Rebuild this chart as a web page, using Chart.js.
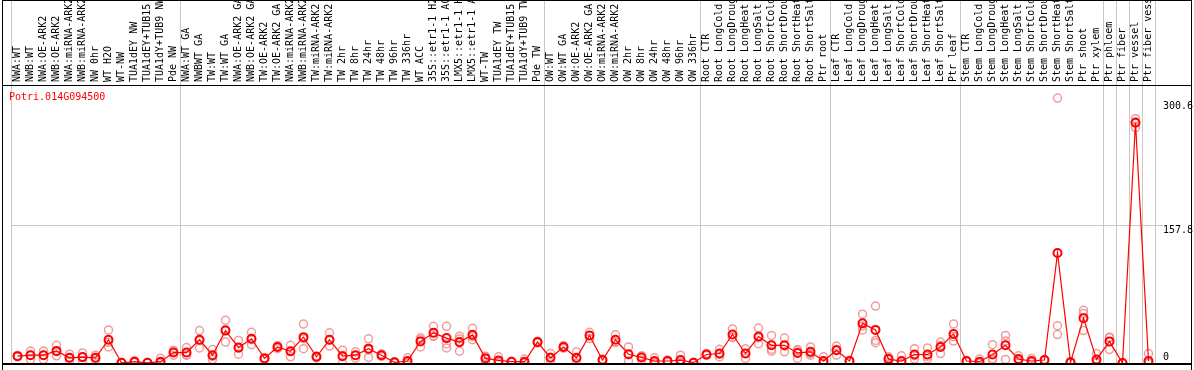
<!DOCTYPE html>
<html>
<head>
<meta charset="utf-8">
<script src="https://cdn.jsdelivr.net/npm/chart.js@4/dist/chart.umd.min.js"></script>
<style>
  html, body { margin: 0; padding: 0; background: #fff; }
  canvas { display: block; }
</style>
</head>
<body>
<canvas id="expr" width="1194" height="370"></canvas>
<script>
// sample labels, as printed (truncated to 14 chars in the source image)
const samples = [
  'NWA:WT', 'NWB:WT', 'NWA:OE-ARK2', 'NWB:OE-ARK2', 'NWA:miRNA-ARK2', 'NWB:miRNA-ARK2', 'NW 0hr',
  'WT H2O', 'WT-NW', 'TUA1dEY NW', 'TUA1dEY+TUB15', 'TUA1dY+TUB9 NW', 'Pde NW',
  'NWA:WT GA', 'NWBWT GA', 'TW:WT', 'TW:WT GA', 'NWA:OE-ARK2 GA', 'NWB:OE-ARK2 GA', 'TW:OE-ARK2',
  'TW:OE-ARK2 GA', 'NWA:miRNA-ARK2', 'NWB:miRNA-ARK2', 'TW:miRNA-ARK2', 'TW:miRNA-ARK2', 'TW 2hr',
  'TW 8hr', 'TW 24hr', 'TW 48hr', 'TW 96hr', 'TW 336hr', 'WT ACC', '35S::etr1-1 H2', '35S::etr1-1 AC',
  'LMX5::etr1-1 H', 'LMX5::etr1-1 A', 'WT-TW', 'TUA1dEY TW', 'TUA1dEY+TUB15', 'TUA1dY+TUB9 TW', 'Pde TW',
  'OW:WT', 'OW:WT GA', 'OW:OE-ARK2', 'OW:OE-ARK2 GA', 'OW:miRNA-ARK2', 'OW:miRNA-ARK2', 'OW 2hr',
  'OW 8hr', 'OW 24hr', 'OW 48hr', 'OW 96hr', 'OW 336hr',
  'Root CTR', 'Root LongCold', 'Root LongDroug', 'Root LongHeat', 'Root LongSalt', 'Root ShortCold',
  'Root ShortDrou', 'Root ShortHeat', 'Root ShortSalt', 'Ptr root',
  'Leaf CTR', 'Leaf LongCold', 'Leaf LongDroug', 'Leaf LongHeat', 'Leaf LongSalt', 'Leaf ShortCold',
  'Leaf ShortDrou', 'Leaf ShortHeat', 'Leaf ShortSalt', 'Ptr leaf',
  'Stem CTR', 'Stem LongCold', 'Stem LongDroug', 'Stem LongHeat', 'Stem LongSalt', 'Stem ShortCold',
  'Stem ShortDrou', 'Stem ShortHeat', 'Stem ShortSalt', 'Ptr shoot', 'Ptr xylem',
  'Ptr phloem', 'Ptr fiber', 'Ptr vessel', 'Ptr fiber vess'
];

// index of the first sample of each experiment block (plus the end)
const groupStarts = [0, 13, 41, 53, 63, 73, 84, 85, 86, 87, 88];

// mean expression per sample
const meanValues = [
  7.9, 9.0, 9.0, 13.9, 6.0, 6.8, 6.0, 26.7, 0.2, 1.5, 0.2, 1.5, 12.0,
  12.0, 26.7, 9.0, 37.2, 17.7, 27.8, 5.3, 18.4, 13.5, 29.7, 7.1, 26.7, 7.9, 9.0, 16.5, 9.0, 0.8,
  2.3, 24.8, 34.6, 28.6, 24.0, 32.3, 5.3, 3.0, 1.5, 1.5, 24.0,
  6.0, 18.4, 6.0, 31.6, 3.4, 26.7, 10.1, 6.4, 2.3, 2.3, 3.4, 0.4,
  9.8, 10.9, 32.7, 10.9, 30.4, 20.3, 20.3, 11.6, 12.8, 2.3,
  14.7, 2.3, 45.5, 38.0, 4.5, 2.3, 9.8, 9.8, 18.4, 33.4,
  2.3, 1.5, 9.8, 20.3, 4.5, 2.3, 3.4, 126.3, 0.8, 51.5, 4.1,
  24.8, 0.0, 275.8, 2.3
];

// individual replicates
const rep1 = [
  8.5, 13.9, 13.9, 20.3, 10.1, 11.6, 9.0, 38.0, 0.4, 2.5, 0.5, 5.5, 14.7,
  17.7, 37.2, 15.4, 49.2, 25.9, 35.3, 6.0, 20.0, 20.3, 44.7, 8.0, 34.6, 14.7, 12.8, 27.8, 10.5, 1.5,
  6.0, 28.9, 42.1, 42.1, 30.8, 39.8, 6.5, 7.1, 2.0, 4.5, 25.0,
  10.9, 20.0, 12.8, 35.3, 4.5, 32.3, 18.4, 7.5, 6.0, 3.5, 9.0, 1.0,
  11.0, 15.8, 39.1, 16.5, 40.2, 31.6, 28.6, 14.0, 18.4, 7.1,
  19.5, 3.0, 56.0, 65.4, 7.1, 8.3, 16.5, 17.3, 24.0, 44.7,
  3.0, 4.5, 21.0, 31.6, 8.3, 5.3, 4.0, 304.0, 1.5, 60.5, 10.9,
  29.7, 0.0, 280.4, 10.9
];
const rep2 = [
  7.2, 4.1, 4.1, 8.3, 2.3, 2.3, 3.4, 18.4, 0.0, 0.5, 0.0, 0.0, 9.0,
  9.0, 17.3, 4.0, 24.0, 10.1, 21.0, 4.5, 16.5, 7.1, 16.5, 6.0, 19.5, 0.0, 5.5, 6.4, 7.5, 0.0,
  0.0, 18.4, 30.8, 17.3, 13.5, 26.7, 1.5, 0.5, 1.0, 0.0, 23.0,
  0.5, 17.0, 0.0, 28.0, 2.5, 24.0, 2.3, 3.4, 0.0, 1.0, 0.0, 0.0,
  8.5, 7.0, 29.7, 5.3, 22.2, 13.5, 12.8, 5.3, 9.0, 0.0,
  9.0, 1.5, 38.0, 25.9, 1.0, 0.0, 4.5, 4.5, 10.9, 25.2,
  1.5, 0.0, 3.4, 4.1, 2.0, 0.5, 2.8, 42.8, 0.0, 37.2, 0.0,
  15.4, 0.0, 270.2, 0.0
];
const rep3 = [
  8.0, 9.0, 9.0, 13.0, 5.6, 6.5, 5.6, 23.7, 0.2, 1.5, 0.1, 0.0, 12.3,
  9.3, 25.6, 7.6, 38.4, 17.1, 27.1, 5.4, 18.7, 13.1, 27.9, 7.3, 26.0, 9.0, 8.7, 15.3, 9.0, 0.9,
  0.9, 27.1, 30.9, 22.2, 27.7, 30.4, 7.9, 1.4, 1.5, 0.0, 24.0,
  6.6, 18.2, 5.2, 31.5, 3.2, 23.8, 9.6, 8.3, 0.9, 2.4, 1.2, 0.2,
  9.9, 9.9, 29.3, 10.9, 28.8, 15.8, 19.5, 15.5, 11.0, 0.0,
  15.6, 2.4, 42.5, 23.3, 5.4, 0.0, 8.4, 7.6, 20.3, 30.3,
  2.4, 0.0, 5.0, 25.2, 3.2, 1.1, 3.4, 32.7, 0.9, 56.8, 1.4,
  29.3, 0.0, 276.8, 0.0
];

const yTicks = [0, 157.8, 300.6];
const geneId = 'Potri.014G094500';

const MONO = "'DejaVu Sans Mono', monospace";
const RED = '#ff0000';
const PINK = 'rgba(238, 140, 140, 0.85)';

const framePlugin = {
  id: 'frame',
  beforeDraw(chart) {
    const c = chart.ctx;
    c.save();
    c.fillStyle = '#fff';
    c.fillRect(0, 0, chart.width, chart.height);
    c.restore();
  },
  beforeDatasetsDraw(chart) {
    const c = chart.ctx;
    const x = chart.scales.x;
    const half = (x.getPixelForValue(1) - x.getPixelForValue(0)) / 2;
    c.save();
    c.strokeStyle = '#c8c8c8';
    c.lineWidth = 1;
    groupStarts.forEach(i => {
      const px = Math.round(x.getPixelForValue(i) - half) + 0.5;
      c.beginPath();
      c.moveTo(px, 0);
      c.lineTo(px, chart.chartArea.bottom);
      c.stroke();
    });
    c.restore();
  },
  afterDraw(chart) {
    const c = chart.ctx;
    const a = chart.chartArea;
    const y = chart.scales.y;
    c.save();
    // black box and the separator under the sample names
    c.strokeStyle = '#000';
    c.lineWidth = 1;
    c.beginPath();
    c.moveTo(2.5, 0.5); c.lineTo(1191.5, 0.5);
    c.moveTo(2.5, 0); c.lineTo(2.5, 370);
    c.moveTo(1191.5, 0); c.lineTo(1191.5, 370);
    c.moveTo(2, a.top + 0.5); c.lineTo(1192, a.top + 0.5);
    c.stroke();
    c.lineWidth = 2;
    c.beginPath();
    c.moveTo(2, a.bottom); c.lineTo(1192, a.bottom);
    c.stroke();

    // gene id
    c.font = '10px ' + MONO;
    c.fillStyle = RED;
    c.textBaseline = 'middle';
    c.textAlign = 'left';
    c.fillText(geneId, 9, 97);

    // value labels on the right, printed just below their level
    c.fillStyle = '#000';
    y.ticks.forEach(t => {
      const py = Math.min(y.getPixelForValue(t.value) + 5, a.bottom - 7);
      c.fillText(t.label, a.right + 8, py);
    });
    c.restore();
  }
};

const repSet = (data) => ({
  data: data,
  showLine: false,
  borderColor: PINK,
  backgroundColor: 'rgba(0,0,0,0)',
  pointBorderColor: PINK,
  pointBackgroundColor: 'rgba(0,0,0,0)',
  pointRadius: 4,
  pointBorderWidth: 1.5,
  pointHoverRadius: 4,
  order: 2,
  clip: { left: 8, right: 8, top: 8, bottom: 0 }
});

new Chart(document.getElementById('expr'), {
  type: 'line',
  data: {
    labels: samples,
    datasets: [
      {
        data: meanValues,
        borderColor: RED,
        borderWidth: 1.2,
        tension: 0,
        pointBorderColor: RED,
        pointBackgroundColor: 'rgba(0,0,0,0)',
        pointRadius: 4,
        pointBorderWidth: 2,
        pointHoverRadius: 4,
        order: 0,
        clip: { left: 8, right: 8, top: 8, bottom: 0 }
      },
      repSet(rep1),
      repSet(rep2),
      repSet(rep3)
    ]
  },
  options: {
    responsive: false,
    animation: false,
    events: [],
    layout: { padding: { left: 11, right: 0, top: 0, bottom: 1 } },
    plugins: { legend: { display: false }, title: { display: false }, tooltip: { enabled: false } },
    scales: {
      x: {
        type: 'category',
        position: 'top',
        offset: true,
        grid: { display: false, drawTicks: false },
        border: { display: false },
        ticks: {
          autoSkip: false,
          minRotation: 90,
          maxRotation: 90,
          padding: 3,
          labelOffset: 12,
          color: '#000',
          font: { family: MONO, size: 10 }
        },
        afterFit(scale) {
          scale.height = 85;
          scale.paddingLeft = 0;
          scale.paddingRight = 0;
        }
      },
      y: {
        position: 'right',
        min: -1.13,
        max: 319.05,
        afterBuildTicks(scale) { scale.ticks = yTicks.map(v => ({ value: v })); },
        ticks: { display: false, callback: v => String(v) },
        grid: {
          color: ctx => (ctx.tick && ctx.tick.value === 157.8 ? '#c8c8c8' : 'rgba(0,0,0,0)'),
          tickLength: 8,
          lineWidth: 1
        },
        border: { display: false },
        afterFit(scale) { scale.width = 39; }
      }
    }
  },
  plugins: [framePlugin]
});
</script>
</body>
</html>
